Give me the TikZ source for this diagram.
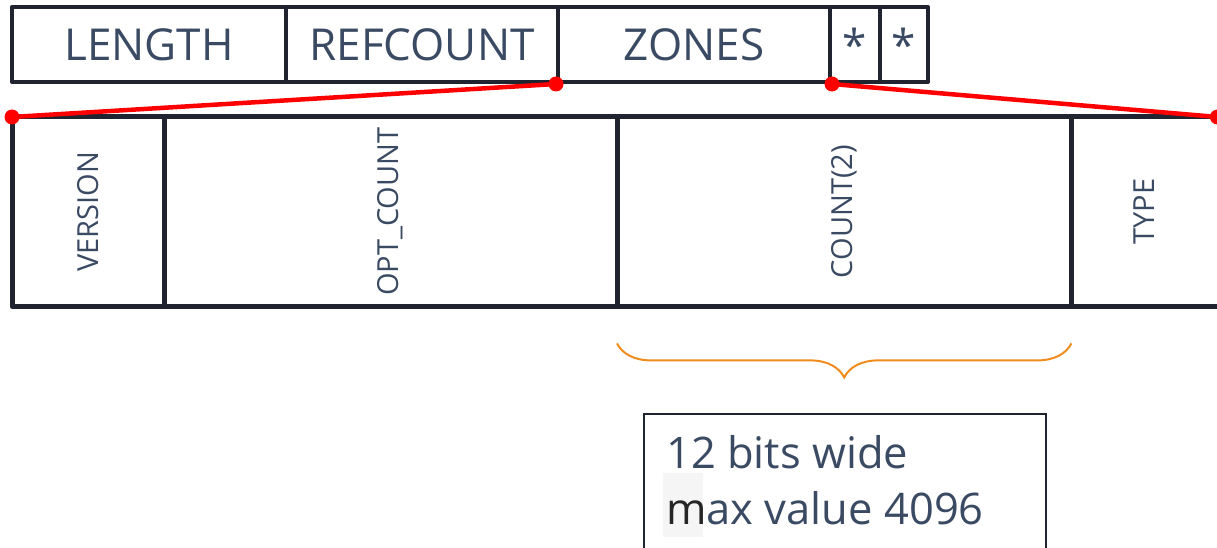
\documentclass[tikz,border=0pt]{standalone}
\usepackage{fontspec}
\setmainfont{Open Sans}
\usetikzlibrary{decorations.pathreplacing}
\definecolor{ink}{HTML}{3B4A63}
\definecolor{frame}{HTML}{1F2430}
\definecolor{link}{HTML}{FF0000}
\definecolor{bracecol}{HTML}{F08C1E}
\begin{document}
\begin{tikzpicture}[x=1pt,y=1pt,
  field/.style={draw=frame,line width=4pt,line join=round,inner sep=0pt,
    minimum height=75pt,anchor=north west,text=ink,
    font=\fontsize{44}{48}\selectfont},
  subfield/.style={inner sep=0pt,minimum height=189pt,anchor=north west,
    text=ink,font=\fontsize{29}{32}\selectfont},
  rowline/.style={draw=frame,line width=5pt,line join=round},
  wire/.style={draw=link,line width=4.5pt},
  dot/.style={fill=link},
  bracket/.style={draw=bracecol,line width=2pt,
    decorate,decoration={brace,amplitude=34pt}},
  notebox/.style={draw=frame,line width=2pt,inner sep=0pt,anchor=north west,
    minimum width=402pt,minimum height=135pt},
  notetext/.style={inner sep=0pt,anchor=base west,text=ink,
    font=\fontsize{43.5}{50}\selectfont}]
\useasboundingbox (0,0) rectangle (1217,-548);

% header record
\node[field,minimum width=274pt] (len)   at (10,-5)  {LENGTH};
\node[field,minimum width=272pt] (ref)   at (284,-5) {REFCOUNT};
\node[field,minimum width=272pt] (zones) at (556,-5) {ZONES};
\node[field,minimum width=50pt]  (fa)    at (828,-5) {*};
\node[field,minimum width=48pt]  (fb)    at (878,-5) {*};

% expanded ZONES word
\node[subfield,minimum width=152pt] (ver) at (12,-117)   {\rotatebox{90}{VERSION}};
\node[subfield,minimum width=453pt] (opt) at (164,-117)  {\rotatebox{90}{OPT\_COUNT}};
\node[subfield,minimum width=454pt] (cnt) at (617,-117)  {\rotatebox{90}{COUNT(2)}};
\node[subfield,minimum width=146pt] (typ) at (1071,-117) {\rotatebox{90}{TYPE}};

\draw[rowline] (typ.north east) -- (ver.north west) -- (ver.south west) -- (typ.south east);
\draw[rowline] (ver.north east) -- (ver.south east);
\draw[rowline] (opt.north east) -- (opt.south east);
\draw[rowline] (cnt.north east) -- (cnt.south east);

% zoom lines from ZONES to its expansion
\draw[wire] (zones.south west) -- (ver.north west);
\draw[wire] (zones.south east) -- (typ.north east);
\foreach \p in {zones.south west,zones.south east,ver.north west,typ.north east}
  \fill[dot] (\p) circle (7.5pt);

% brace under COUNT(2)
\draw[bracket] ([yshift=-37pt]cnt.south east) -- ([yshift=-37pt]cnt.south west);

% annotation
\node[notebox] (note) at (643,-413) {};
\fill[black!4] (663,-473) rectangle (703,-537);
\node[notetext] (noteA) at (666,-468) {12 bits wide};
\node[notetext] (noteB) at (666,-524) {{\color{black!85}m}ax value 4096};
\end{tikzpicture}
\end{document}
